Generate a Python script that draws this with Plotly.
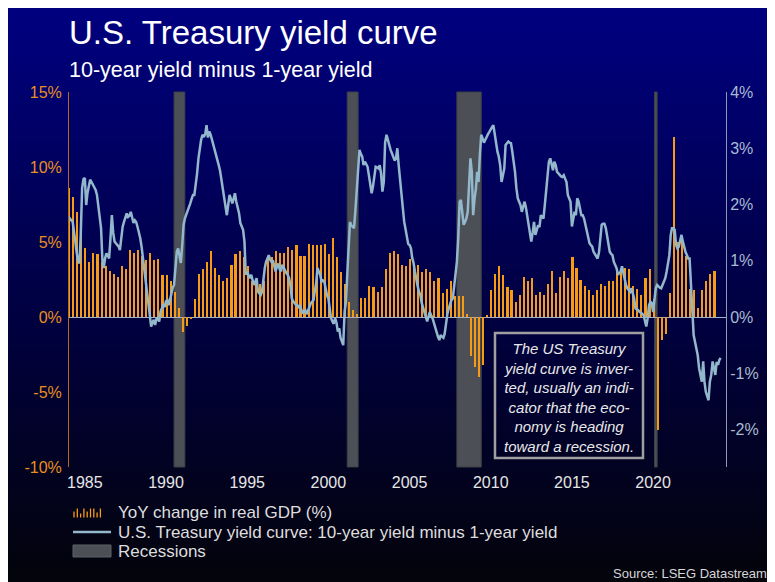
import base64
import pandas as pd
import plotly.graph_objects as go

# ---------------- data ----------------
gdp_start = "1984-01-01"          # first quarter shown (quarterly, YoY % change in real GDP)
gdp_yoy = [
    8.6, 8.0, 7.0, 5.6,   # 1984
    4.6, 3.7, 4.3, 4.2,   # 1985
    3.7, 3.4, 3.1, 2.9,   # 1986
    2.7, 3.4, 3.2, 4.5,   # 1987
    4.3, 4.5, 4.1, 3.8,   # 1988
    4.3, 3.8, 3.9, 2.8,   # 1989
    2.8, 2.4, 1.7, 0.6,   # 1990
    -1.0, -0.6, -0.1, 1.2,  # 1991
    2.9, 3.2, 3.7, 4.4,   # 1992
    3.3, 2.8, 2.4, 2.6,   # 1993
    3.5, 4.2, 4.4, 4.0,   # 1994
    3.4, 2.4, 2.4, 2.2,   # 1995
    2.4, 3.9, 4.0, 4.4,   # 1996
    4.3, 4.3, 4.7, 4.5,   # 1997
    4.8, 4.1, 4.1, 4.9,   # 1998
    4.8, 4.8, 4.8, 4.9,   # 1999
    4.2, 5.3, 4.0, 3.0,   # 2000
    2.2, 1.0, 0.5, 0.2,   # 2001
    1.3, 1.3, 2.1, 2.0,   # 2002
    1.7, 2.0, 3.2, 4.3,   # 2003
    4.4, 4.2, 3.5, 3.4,   # 2004
    3.9, 3.4, 3.5, 3.0,   # 2005
    3.2, 3.0, 2.4, 2.6,   # 2006
    1.6, 1.9, 2.4, 1.4,   # 2007
    1.4, 1.4, 0.2, -2.6,  # 2008
    -3.3, -4.0, -3.2, 0.1,  # 2009
    1.8, 2.9, 3.4, 2.8,   # 2010
    2.0, 1.8, 1.0, 1.5,   # 2011
    2.7, 2.4, 2.6, 1.5,   # 2012
    1.7, 1.5, 2.2, 3.1,   # 2013
    1.6, 2.7, 3.1, 2.6,   # 2014
    4.0, 3.3, 2.5, 2.1,   # 2015
    1.8, 1.5, 1.8, 2.2,   # 2016
    2.1, 2.4, 2.4, 3.0,   # 2017
    3.1, 3.3, 3.2, 2.1,   # 2018
    1.9, 1.5, 2.6, 3.2,   # 2019
    1.2, -7.5, -1.5, -1.1,  # 2020
    1.6, 12.0, 5.0, 5.4,  # 2021
    4.1, 1.9, 1.8, 0.6,   # 2022
    1.8, 2.4, 2.9, 3.1,   # 2023
]

spread_start = "1984-01-01"       # monthly, 10-year minus 1-year Treasury yield (%)
spread = [
    1.78, 1.74, 1.72, 1.70, 1.55, 1.34, 1.15, 1.00, 0.95, 1.46, 2.29, 2.45,   # 1984
    2.47, 1.99, 2.20, 2.35, 2.44, 2.40, 2.35, 2.30, 2.26, 2.17, 2.00, 1.80,   # 1985
    1.58, 1.00, 0.87, 1.04, 1.13, 1.10, 1.04, 1.40, 1.81, 1.50, 1.34, 1.31,   # 1986
    1.28, 1.25, 1.19, 1.45, 1.60, 1.69, 1.75, 1.84, 1.78, 1.80, 1.87, 1.75,   # 1987
    1.67, 1.72, 1.69, 1.60, 1.52, 1.40, 1.25, 1.04, 0.85, 0.70, 0.45, 0.25,   # 1988
    0.05, -0.17, -0.10, -0.05, -0.14, -0.03, -0.02, -0.08, 0.10, 0.15, 0.21, 0.18,  # 1989
    0.28, 0.30, 0.21, 0.30, 0.45, 0.52, 0.57, 0.90, 1.16, 1.22, 1.05, 0.96,   # 1990
    1.28, 1.64, 1.75, 1.81, 1.87, 1.96, 2.02, 2.10, 2.17, 2.17, 2.35, 2.55,   # 1991
    2.82, 3.03, 3.15, 3.24, 3.20, 3.25, 3.41, 3.19, 3.30, 3.24, 3.15, 3.10,   # 1992
    3.00, 2.90, 2.82, 2.70, 2.60, 2.45, 2.30, 2.17, 2.02, 1.81, 2.00, 2.17,   # 1993
    2.10, 2.02, 2.10, 2.20, 2.05, 1.95, 1.85, 1.67, 1.61, 1.55, 1.34, 0.75,   # 1994
    0.80, 0.72, 0.69, 0.75, 0.65, 0.57, 0.62, 0.69, 0.45, 0.42, 0.39, 0.45,   # 1995
    0.70, 0.87, 0.98, 1.05, 1.10, 1.02, 0.98, 1.01, 0.90, 0.81, 0.90, 0.95,   # 1996
    0.85, 0.81, 0.93, 0.88, 0.81, 0.78, 0.75, 0.69, 0.55, 0.33, 0.28, 0.24,   # 1997
    0.22, 0.21, 0.18, 0.21, 0.15, 0.06, 0.10, 0.12, 0.05, 0.12, 0.21, 0.24,   # 1998
    0.27, 0.30, 0.45, 0.60, 0.87, 0.80, 0.75, 0.63, 0.65, 0.63, 0.50, 0.39,   # 1999
    0.33, 0.15, -0.02, -0.08, -0.12, -0.02, -0.10, -0.26, -0.20, -0.37, -0.45, -0.50,  # 2000
    0.10, 0.27, 0.75, 1.40, 1.69, 1.63, 1.60, 1.58, 1.90, 2.23, 2.70, 2.97,   # 2001
    2.90, 2.85, 2.70, 2.76, 2.72, 2.67, 2.52, 2.35, 2.20, 2.32, 2.50, 2.67,   # 2002
    2.66, 2.64, 2.70, 2.55, 2.23, 2.40, 3.10, 3.24, 3.15, 3.05, 2.97, 2.91,   # 2003
    2.85, 2.78, 2.82, 3.00, 2.70, 2.40, 2.17, 1.95, 1.70, 1.55, 1.40, 1.30,   # 2004
    1.28, 1.22, 1.05, 0.96, 0.81, 0.65, 0.55, 0.45, 0.39, 0.25, 0.15, 0.05,   # 2005
    0.00, -0.08, 0.02, 0.09, 0.03, -0.02, -0.10, -0.20, -0.26, -0.35, -0.41, -0.32,  # 2006
    -0.35, -0.37, -0.30, -0.08, 0.05, 0.15, 0.25, 0.30, 0.33, 0.57, 0.75, 0.98,  # 2007
    1.40, 2.05, 2.08, 1.87, 1.64, 1.69, 1.75, 1.87, 2.40, 2.82, 2.58, 1.81,   # 2008
    2.10, 2.28, 2.58, 2.40, 2.88, 3.24, 3.18, 3.10, 3.15, 3.21, 3.25, 3.29,   # 2009
    3.35, 3.38, 3.41, 3.24, 3.06, 2.94, 2.85, 2.70, 2.40, 2.55, 2.64, 3.06,   # 2010
    3.10, 3.12, 3.10, 3.09, 2.94, 2.76, 2.58, 2.29, 2.11, 2.05, 1.99, 1.87,   # 2011
    1.95, 2.05, 1.95, 1.80, 1.63, 1.50, 1.34, 1.50, 1.69, 1.46, 1.55, 1.63,   # 2012
    1.60, 1.81, 1.78, 1.75, 1.99, 2.29, 2.50, 2.76, 2.82, 2.70, 2.61, 2.76,   # 2013
    2.70, 2.58, 2.55, 2.52, 2.50, 2.49, 2.52, 2.46, 2.40, 2.17, 2.10, 2.05,   # 2014
    1.61, 1.75, 1.87, 1.81, 2.11, 2.05, 1.95, 1.81, 1.81, 1.75, 1.64, 1.52,   # 2015
    1.45, 1.31, 1.28, 1.25, 1.16, 1.12, 1.10, 1.04, 1.15, 1.40, 1.64, 1.66,   # 2016
    1.66, 1.58, 1.45, 1.34, 1.16, 1.12, 1.10, 0.98, 0.92, 0.87, 0.75, 0.78,   # 2017
    0.81, 0.90, 0.78, 0.69, 0.57, 0.51, 0.48, 0.45, 0.51, 0.40, 0.33, 0.15,   # 2018
    0.14, 0.12, 0.09, 0.08, 0.06, 0.03, -0.05, -0.17, -0.02, 0.21, 0.27, 0.25,  # 2019
    0.09, 0.30, 0.51, 0.57, 0.54, 0.52, 0.51, 0.57, 0.62, 0.69, 0.81, 1.00,   # 2020
    1.10, 1.46, 1.58, 1.58, 1.55, 1.28, 1.22, 1.25, 1.34, 1.46, 1.34, 1.22,   # 2021
    1.15, 1.10, 1.04, 1.04, 0.63, 0.09, -0.32, -0.44, -0.55, -0.68, -0.91, -1.05,  # 2022
    -1.15, -0.79, -1.15, -1.33, -1.40, -1.48, -1.15, -1.03, -0.79, -0.90, -1.03, -0.80,  # 2023
    -0.85, -0.76, -0.73,                                                      # 2024
]

recession_start = ["1990-07-01", "2001-03-01", "2007-12-01", "2020-02-01"]
recession_end = ["1991-03-01", "2001-11-01", "2009-06-01", "2020-04-01"]

year_ticks = [1985, 1990, 1995, 2000, 2005, 2010, 2015, 2020]
left_ticks = [-10, -5, 0, 5, 10, 15]
right_ticks = [-2, -1, 0, 1, 2, 3, 4]

title = "U.S. Treasury yield curve"
subtitle = "10-year yield minus 1-year yield"
legend_labels = ["YoY change in real GDP (%)",
                 "U.S. Treasury yield curve: 10-year yield minus 1-year yield",
                 "Recessions"]
note_lines = ["The US Treasury", "yield curve is inver-", "ted, usually an indi-",
              "cator that the eco-", "nomy is heading", "toward a recession."]
source = "Source: LSEG Datastream"

# ---------------- styling ----------------
FONT = "Liberation Sans, Arial, Helvetica, sans-serif"
ORANGE = "#f79b14"
ORANGE_TXT = "#e8901f"
LINE = "#93b8cc"
RIGHT_TXT = "#a9bccf"
REC = "#4c5056"
W, H = 775, 582
OX, OY = 8, 8                       # page offset of the figure (body margin)
L, R, T, B = 61, 57, 84, 123        # plot area: page x 69..726, page y 92..467
PW, PH = W - L - R, H - T - B


def px(xpage):
    """page pixel x -> paper x"""
    return (xpage - OX - L) / PW


def py(ypage):
    """page pixel y -> paper y"""
    return (H - B - (ypage - OY)) / PH


gdp_dates = pd.date_range(gdp_start, periods=len(gdp_yoy), freq="QS") + pd.Timedelta(days=18)
spread_dates = pd.date_range(spread_start, periods=len(spread), freq="MS")

fig = go.Figure()
fig.add_trace(go.Bar(x=gdp_dates, y=gdp_yoy, marker=dict(color=ORANGE, line=dict(width=0)),
                     width=36 * 86400000, name=legend_labels[0], yaxis="y"))
fig.add_trace(go.Scatter(x=spread_dates, y=spread, mode="lines",
                         line=dict(color=LINE, width=2.5), name=legend_labels[1], yaxis="y2"))

# background gradient (SVG data URI) covering the whole figure
svg = ("<svg xmlns='http://www.w3.org/2000/svg' width='100' height='100' preserveAspectRatio='none'>"
       "<defs><linearGradient id='g' x1='0' y1='0' x2='0' y2='1'>"
       "<stop offset='0' stop-color='#000080'/><stop offset='0.55' stop-color='#00003e'/>"
       "<stop offset='1' stop-color='#040409'/></linearGradient></defs>"
       "<rect x='0' y='0' width='100' height='100' fill='url(#g)'/></svg>")
src = "data:image/svg+xml;base64," + base64.b64encode(svg.encode()).decode()
fig.add_layout_image(dict(source=src, xref="paper", yref="paper", x=px(OX), y=py(OY),
                          sizex=px(OX + W) - px(OX), sizey=py(OY) - py(OY + H),
                          xanchor="left", yanchor="top", sizing="stretch", layer="below"))

shapes = []
for s, e in zip(recession_start, recession_end):
    shapes.append(dict(type="rect", xref="x", yref="paper", x0=s, x1=e, y0=0, y1=1,
                       fillcolor=REC, line=dict(color="#3d4045", width=1), layer="below"))
# note box
shapes.append(dict(type="rect", xref="paper", yref="paper", x0=px(495), x1=px(643),
                   y0=py(458), y1=py(333), line=dict(color="#a0a0a0", width=2.5),
                   fillcolor="rgba(0,0,0,0)", layer="above"))
# legend symbols
heights = [6, 9, 4, 9, 6, 9, 9, 5, 9]
for k, hgt in enumerate(heights):
    xx = 74 + k * 3.3
    shapes.append(dict(type="line", xref="paper", yref="paper", x0=px(xx), x1=px(xx),
                       y0=py(517.5), y1=py(517.5 - hgt), line=dict(color=ORANGE, width=1.3)))
shapes.append(dict(type="line", xref="paper", yref="paper", x0=px(73), x1=px(111),
                   y0=py(532), y1=py(532), line=dict(color=LINE, width=2.5)))
shapes.append(dict(type="rect", xref="paper", yref="paper", x0=px(73), x1=px(111),
                   y0=py(557), y1=py(545), fillcolor=REC, line=dict(color="#5c6066", width=1)))

annotations = [
    dict(text=title, x=px(67), y=py(32), xref="paper", yref="paper", xanchor="left",
         yanchor="middle", showarrow=False, font=dict(family=FONT, size=33, color="white")),
    dict(text=subtitle, x=px(67), y=py(70), xref="paper", yref="paper", xanchor="left",
         yanchor="middle", showarrow=False, font=dict(family=FONT, size=21.5, color="white")),
    dict(text="<br>".join(note_lines), x=px(569), y=py(397), xref="paper", yref="paper",
         xanchor="center", yanchor="middle", align="center", showarrow=False,
         font=dict(family=FONT, size=15, color="#e8e8e8", style="italic")),
    dict(text=source, x=px(769), y=py(573), xref="paper", yref="paper", xanchor="right",
         yanchor="middle", showarrow=False, font=dict(family=FONT, size=13, color="#d6d6d6")),
]
for lab, yy in zip(legend_labels, [512.5, 532, 551.5]):
    annotations.append(dict(text=lab, x=px(116), y=py(yy), xref="paper", yref="paper",
                            xanchor="left", yanchor="middle", showarrow=False,
                            font=dict(family=FONT, size=17, color="#dedede")))

fig.update_layout(
    width=W, height=H, autosize=False,
    margin=dict(l=L, r=R, t=T, b=B, pad=0),
    paper_bgcolor="#000010", plot_bgcolor="rgba(0,0,0,0)",
    showlegend=False, bargap=0,
    font=dict(family=FONT),
    shapes=shapes, annotations=annotations,
    xaxis=dict(type="date", range=["1984-01-11", "2024-06-28"],
               tickvals=[f"{y}-01-01" for y in year_ticks], ticktext=[str(y) for y in year_ticks],
               showgrid=False, zeroline=False, showline=False, ticks="", ticklabelstandoff=4,
               tickfont=dict(family=FONT, size=16, color="#e6e6e6")),
    yaxis=dict(range=[-10, 15], tickvals=left_ticks, ticktext=[f"{v}%" for v in left_ticks],
               showgrid=False, zeroline=True, zerolinecolor="#a3afc6", zerolinewidth=1,
               showline=True, linecolor="#b06c22", linewidth=1, ticks="", ticklabelstandoff=3,
               tickfont=dict(family=FONT, size=16, color=ORANGE_TXT)),
    yaxis2=dict(overlaying="y", side="right", range=[-10 * 4 / 15, 4], tickvals=right_ticks,
                ticktext=[f"{v}%" for v in right_ticks], showgrid=False, zeroline=False,
                showline=True, linecolor="#8b9bb6", linewidth=1, ticks="",
                tickfont=dict(family=FONT, size=16, color=RIGHT_TXT)),
)

fig.write_html("out.html")
